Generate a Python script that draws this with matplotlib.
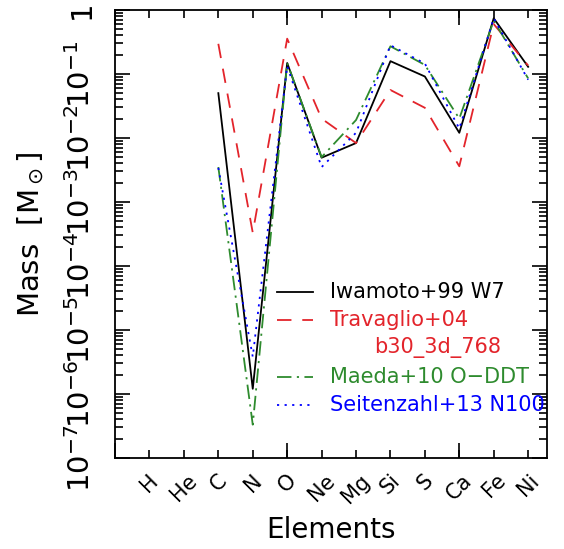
import numpy as np
import matplotlib
matplotlib.use('Agg')
import matplotlib.pyplot as plt
from matplotlib.ticker import LogLocator, NullFormatter, FixedLocator

plt.rcParams['font.family'] = ['DejaVu Sans']
plt.rcParams['mathtext.default'] = 'regular'

# element names, x positions (H = 1)
elements = ['H', 'He', 'C', 'N', 'O', 'Ne', 'Mg', 'Si', 'S', 'Ca', 'Fe', 'Ni']
xpos = np.arange(1, len(elements) + 1)

# yields in Msun, from C to Ni
plotted = ['C', 'N', 'O', 'Ne', 'Mg', 'Si', 'S', 'Ca', 'Fe', 'Ni']
iwamoto_w7 = [5.0e-2, 1.2e-6, 1.48e-1, 4.9e-3, 8.3e-3, 1.58e-1, 9.1e-2, 1.2e-2, 7.4e-1, 1.29e-1]
travaglio = [2.95e-1, 3.3e-4, 3.55e-1, 2.0e-2, 8.3e-3, 5.6e-2, 2.95e-2, 3.6e-3, 6.0e-1, 1.35e-1]
maeda_oddt = [3.5e-3, 3.3e-7, 1.48e-1, 5.0e-3, 1.9e-2, 2.7e-1, 1.38e-1, 2.0e-2, 6.8e-1, 8.5e-2]
seitenzahl_n100 = [3.4e-3, 3.8e-6, 1.32e-1, 3.5e-3, 1.2e-2, 2.8e-1, 1.45e-1, 1.4e-2, 7.4e-1, 8.1e-2]

ytick_vals = [1e-7, 1e-6, 1e-5, 1e-4, 1e-3, 1e-2, 1e-1, 1]
ytick_labels = ['$10^{-7}$', '$10^{-6}$', '$10^{-5}$', '$10^{-4}$',
                '$10^{-3}$', '$10^{-2}$', '$10^{-1}$', '1']

red = '#e3242b'
green = '#2e8b2e'
blue = '#0000ff'

series = [
    (iwamoto_w7, 'black', '-', 'Iwamoto+99 W7'),
    (travaglio, red, (0, (8, 6)), 'Travaglio+04'),
    (maeda_oddt, green, (0, (8, 3, 1.2, 3)), 'Maeda+10 O\u2212DDT'),
    (seitenzahl_n100, blue, (0, (1.2, 3)), 'Seitenzahl+13 N100'),
]

fig = plt.figure(figsize=(5.64, 5.49), dpi=100)
ax = fig.add_axes([0.204, 0.166, 0.766, 0.816])

xs = [xpos[elements.index(e)] for e in plotted]
for vals, col, ls, lab in series:
    ax.plot(xs, vals, color=col, ls=ls, lw=1.3)

ax.set_yscale('log')
ax.set_ylim(1e-7, 1)
ax.set_xlim(0, 12.55)

ax.set_yticks(ytick_vals)
ax.set_yticklabels(ytick_labels, fontsize=21)
ax.yaxis.set_minor_locator(LogLocator(base=10, subs=np.arange(2, 10), numticks=100))
ax.yaxis.set_minor_formatter(NullFormatter())
for t in ax.get_yticklabels():
    t.set_rotation(90)
    t.set_va('center')

ax.xaxis.remove_overlapping_locs = False
ax.xaxis.set_major_locator(FixedLocator([0, 5, 10]))
ax.set_xticklabels(['', '', ''])
ax.set_xticks(xpos, elements, minor=True, fontsize=15, rotation=45, ha='center')

ax.tick_params(which='both', direction='in', top=True, right=True, width=1.2)
ax.tick_params(which='major', length=11)
ax.tick_params(which='minor', length=5.5)
ax.tick_params(axis='y', which='major', pad=14)
ax.tick_params(axis='x', which='minor', pad=9)
for s in ax.spines.values():
    s.set_linewidth(1.3)

ax.set_xlabel('Elements', fontsize=20, labelpad=7)
ax.set_ylabel(r'Mass  [M$_\odot$]', fontsize=21, labelpad=14)

# legend drawn by hand so the two-line Travaglio label keeps its handle on line one
rows = [0.371, 0.308, 0.181, 0.118]
for (vals, col, ls, lab), yr in zip(series, rows):
    ax.plot([0.375, 0.458], [yr, yr], transform=ax.transAxes, color=col, ls=ls, lw=1.3)
    ax.text(0.498, yr, lab, transform=ax.transAxes, color=col, fontsize=15, va='center')
ax.text(0.60, 0.246, 'b30_3d_768', transform=ax.transAxes, color=red, fontsize=15, va='center')

fig.savefig('out.png', dpi=100)
